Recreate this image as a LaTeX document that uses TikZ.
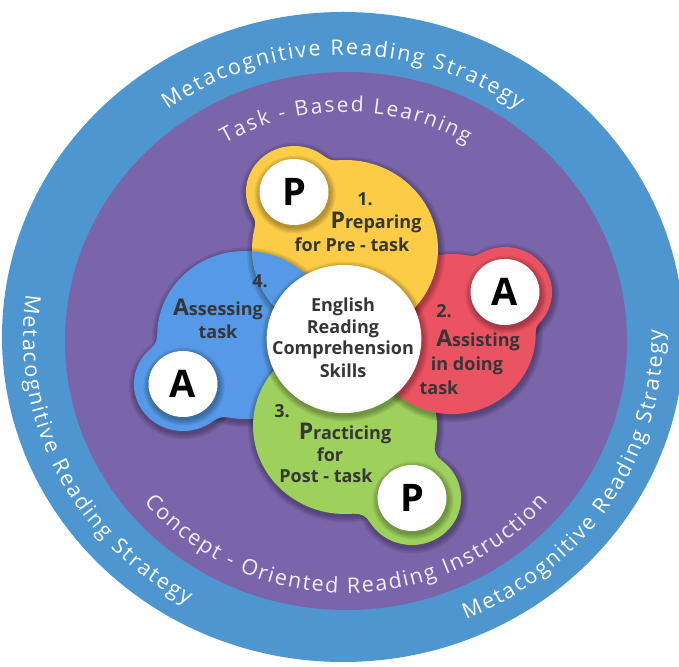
\documentclass[tikz,border=0pt]{standalone}
\usepackage{fontspec}
\setmainfont{Open Sans}
\usetikzlibrary{decorations.text}
\definecolor{outerblue}{RGB}{78,150,208}
\definecolor{purp}{RGB}{122,100,170}
\definecolor{yel}{RGB}{252,204,70}
\definecolor{rd}{RGB}{235,82,98}
\definecolor{bbl}{RGB}{86,153,230}
\definecolor{grn}{RGB}{158,208,92}
\definecolor{tdark}{RGB}{54,54,54}
\definecolor{ptext}{RGB}{242,238,248}
% soft shadow (x in px, y, radius) -- used inside xscale scope
\newcommand\softshadow[3]{%
  \foreach \k in {1,...,6}{\fill[black,opacity=0.05] ({#1/1.045+1},#2-2.5) circle ({#3+7-\k});}}
% concave fillet (neck) between two circles
\newcommand\fillet[8]{%
  \pgfmathsetmacro\fxa{#1/1.045}%
  \pgfmathsetmacro\fxb{#4/1.045}%
  \pgfmathsetmacro\fdx{\fxb-\fxa}%
  \pgfmathsetmacro\fdy{#5-#2}%
  \pgfmathsetmacro\fd{veclen(\fdx,\fdy)}%
  \pgfmathsetmacro\fa{#3+#7}%
  \pgfmathsetmacro\fb{#6+#7}%
  \pgfmathsetmacro\fp{(\fa-\fb)*(\fa+\fb)/(2*\fd)+\fd/2}%
  \pgfmathsetmacro\fh{sqrt((\fa-\fp)*(\fa+\fp))}%
  \pgfmathsetmacro\fex{\fdx/\fd}%
  \pgfmathsetmacro\fey{\fdy/\fd}%
  \foreach \s in {1,-1}{%
    \pgfmathsetmacro\ffx{\fxa+\fp*\fex-\s*\fh*\fey}%
    \pgfmathsetmacro\ffy{#2+\fp*\fey+\s*\fh*\fex}%
    \pgfmathsetmacro\tha{atan2(#2-\ffy,\fxa-\ffx)}%
    \pgfmathsetmacro\thb{atan2(#5-\ffy,\fxb-\ffx)}%
    \pgfmathsetmacro\thd{mod(\thb-\tha+540,360)-180}%
    \pgfmathsetmacro\tax{\ffx+#7*cos(\tha)}%
    \pgfmathsetmacro\tay{\ffy+#7*sin(\tha)}%
    \fill[#8] (\fxa,#2) -- (\tax,\tay) arc [start angle=\tha, delta angle=\thd, radius=#7] -- (\fxb,#5) -- cycle;
  }%
}
\tikzset{
  lbl/.style={text=tdark, font=\bfseries\fontsize{18}{20}\selectfont, inner sep=0pt},
  bigletter/.style={text=black, font=\bfseries\fontsize{38}{38}\selectfont, inner sep=0pt},
  ringtext/.style n args={4}{decorate, decoration={text effects along path, text={#4}, text align=center,
     text effects/.cd, text along path,
     characters={text=#1, font=\fontsize{#2}{24}\selectfont, inner xsep=#3, inner ysep=0pt},
     character widths={font=\fontsize{#2}{24}\selectfont, inner xsep=#3, inner ysep=0pt}}},
}
\newcommand\firstl[1]{{\fontsize{23}{23}\selectfont #1}}
\begin{document}
\begin{tikzpicture}[x=1pt,y=1pt]
\useasboundingbox (0,0) rectangle (679,666);
\fill[white] (0,0) rectangle (679,666);
% rings
\fill[outerblue] (343,329) ellipse [x radius=341, y radius=325];
\fill[purp] (346,325) ellipse [x radius=281, y radius=269];
% curved texts
\path[ringtext={white}{21.5}{1pt}{Metacognitive Reading Strategy}]
  (343,329) ++(180:296 and 282) arc [start angle=180, end angle=0, x radius=296, y radius=282];
\path[ringtext={white}{21.5}{1pt}{Metacognitive Reading Strategy}]
  (343,329) ++(146:320 and 306) arc [start angle=146, end angle=266, x radius=320, y radius=306];
\path[ringtext={white}{21.5}{1pt}{Metacognitive Reading Strategy}]
  (343,329) ++(-92.5:320 and 306) arc [start angle=-92.5, end angle=27.5, x radius=320, y radius=306];
\path[ringtext={ptext}{21}{1pt}{Task - Based Learning}]
  (346,325) ++(180:239 and 229) arc [start angle=180, end angle=0, x radius=239, y radius=229];
\path[ringtext={ptext}{21.5}{0.9pt}{Concept - Oriented Reading Instruction}]
  (346,325) ++(180:263 and 252) arc [start angle=180, end angle=360, x radius=263, y radius=252];
% bubbles
\begin{scope}[xscale=1.045]
  % blue (4)
  \softshadow{245}{331}{84}
  \softshadow{183}{282}{47}
  \fill[bbl] ({245/1.045},331) circle (84);
  \fill[bbl] ({183/1.045},282) circle (47);
  \fillet{245}{331}{84}{183}{282}{47}{16}{bbl}
  \softshadow{183}{282}{33}
  \fill[white] ({183/1.045},282) circle (33);
  % green (3)
  \softshadow{345}{240}{88}
  \softshadow{412}{168}{47}
  \fill[grn] ({345/1.045},240) circle (88);
  \fill[grn] ({412/1.045},168) circle (47);
  \fillet{345}{240}{88}{412}{168}{47}{16}{grn}
  \softshadow{412}{168}{33}
  \fill[white] ({412/1.045},168) circle (33);
  % red (2)
  \softshadow{452}{332}{80}
  \softshadow{505}{374}{45}
  \fill[rd] ({452/1.045},332) circle (80);
  \fill[rd] ({505/1.045},374) circle (45);
  \fillet{452}{332}{80}{505}{374}{45}{16}{rd}
  \softshadow{505}{374}{33}
  \fill[white] ({505/1.045},374) circle (33);
  % yellow (1)
  \softshadow{345}{417}{89}
  \softshadow{294}{474}{46}
  \fill[yel] ({345/1.045},417) circle (89);
  \fill[yel] ({294/1.045},474) circle (46);
  \fillet{345}{417}{89}{294}{474}{46}{16}{yel}
  \softshadow{294}{474}{33}
  \fill[white] ({294/1.045},474) circle (33);
  % blue lies over yellow
  \begin{scope}
    \clip ({345/1.045},417) circle (89);
    \softshadow{245}{331}{84}
    \fill[bbl] ({245/1.045},331) circle (84);
  \end{scope}
  % centre
  \softshadow{344}{327}{74}
  \fill[white] ({344/1.045},327) circle (74);
\end{scope}
% letters in white circles
\node[bigletter] (p1) at (294,474) {P};
\node[bigletter] (a2) at (505,374) {A};
\node[bigletter] (p3) at (412,168) {P};
\node[bigletter] (a4) at (183,282) {A};
% centre text
\node[lbl] (c1) at (343,359) {English};
\node[lbl] (c2) at (343,337) {Reading};
\node[lbl] (c3) at (343,316) {Comprehension};
\node[lbl] (c4) at (343,295) {Skills};
% step 1
\node[lbl] (s1a) at (365,467) {1.};
\node[lbl] (s1b) at (376,444) {\firstl{P}reparing};
\node[lbl] (s1c) at (352,421) {for Pre - task};
% step 2
\node[lbl] (s2a) at (444,355) {2.};
\node[lbl] (s2b) at (478,326) {\firstl{A}ssisting};
\node[lbl] (s2c) at (467,300) {in doing};
\node[lbl] (s2d) at (439,278) {task};
% step 3
\node[lbl] (s3a) at (282,255) {3.};
\node[lbl] (s3b) at (345,233) {\firstl{P}racticing};
\node[lbl] (s3c) at (330,211) {for};
\node[lbl] (s3d) at (326,190) {Post - task};
% step 4
\node[lbl] (s4a) at (260,385) {4.};
\node[lbl] (s4b) at (218,357) {\firstl{A}ssessing};
\node[lbl] (s4c) at (218,334) {task};
\end{tikzpicture}
\end{document}
